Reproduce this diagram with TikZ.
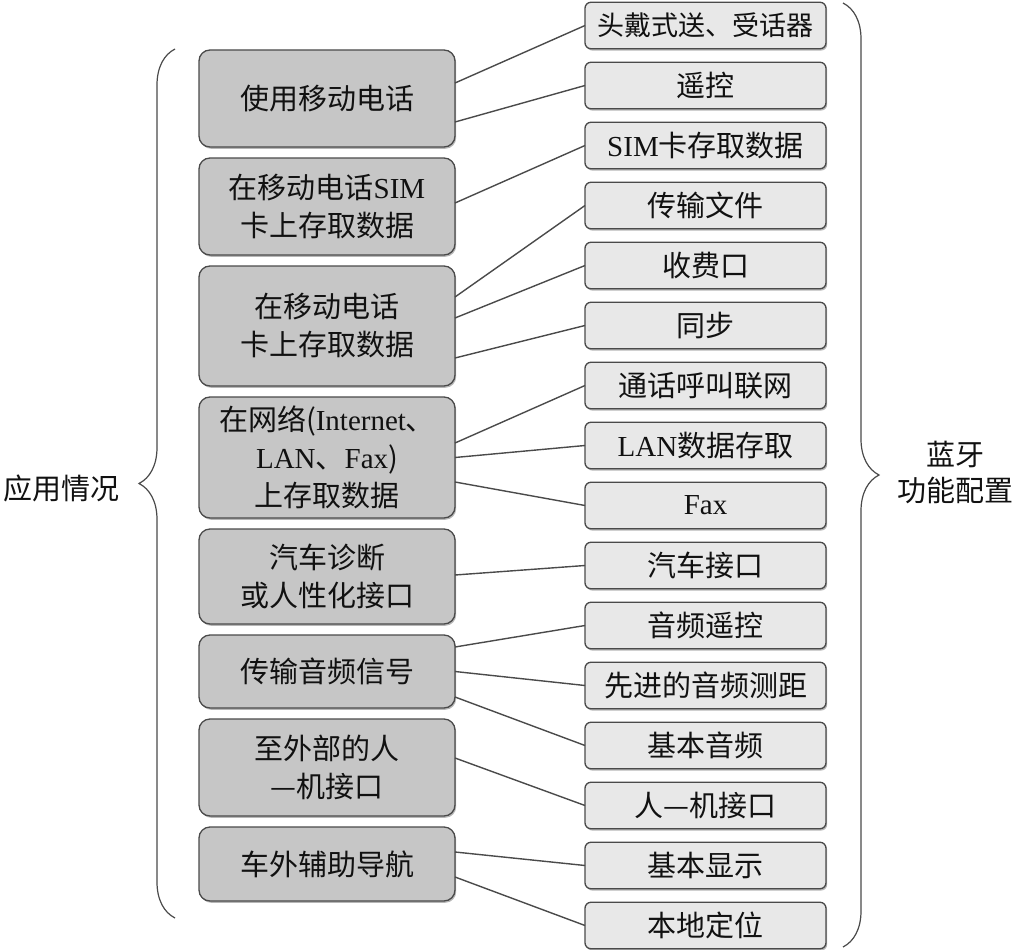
\documentclass[tikz,border=0pt]{standalone}
\usepackage{fontspec}
\setmainfont{Liberation Serif}
\newfontfamily\cjk{Noto Sans CJK SC}
\usepackage{tikz}
\usetikzlibrary{positioning,shadows,decorations.pathreplacing}
\definecolor{ink}{HTML}{111111}
\definecolor{edge}{HTML}{4A4A4A}
\definecolor{usefill}{HTML}{C6C6C6}
\definecolor{cfgfill}{HTML}{E8E8E8}
\newcommand{\latn}[1]{{\rmfamily #1}}

\begin{document}
\begin{tikzpicture}[x=1pt, y=-1pt, font=\cjk\fontsize{29}{38}\selectfont, text=ink, node distance=11pt,
  usebox/.style={draw=edge, line width=1.3pt, rounded corners=11pt, fill=usefill, minimum width=256pt, align=center, inner sep=0pt, outer sep=0pt, drop shadow={shadow xshift=1.2pt, shadow yshift=-1.8pt, fill=edge!80}},
  cfgbox/.style={draw=edge, line width=1.3pt, rounded corners=6pt, fill=cfgfill, minimum width=241pt, minimum height=46.5pt, align=center, inner sep=0pt, outer sep=0pt, drop shadow={shadow xshift=1.2pt, shadow yshift=-1.8pt, fill=edge!80}},
  link/.style={edge, line width=1.4pt},
  brc/.style={decorate, decoration={brace, amplitude=36pt}, edge, line width=1.2pt}]
  \useasboundingbox (0,0) rectangle (1015,950);
  % Bluetooth profiles (right column)
  \node[cfgbox, font=\cjk\fontsize{27}{30}\selectfont] (headset) at (705.5,25.5) {头戴式送、受话器};
  \node[cfgbox, below=13.5pt of headset] (remote) {遥控};
  \node[cfgbox, below=13.5pt of remote] (simdata) {\latn{SIM}卡存取数据};
  \node[cfgbox, below=13.5pt of simdata] (filexfer) {传输文件};
  \node[cfgbox, below=13.5pt of filexfer] (toll) {收费口};
  \node[cfgbox, below=13.5pt of toll] (sync) {同步};
  \node[cfgbox, below=13.5pt of sync] (dialup) {通话呼叫联网};
  \node[cfgbox, below=13.5pt of dialup] (landata) {\latn{LAN}数据存取};
  \node[cfgbox, below=13.5pt of landata] (fax) {\latn{Fax}};
  \node[cfgbox, below=13.5pt of fax] (carif) {汽车接口};
  \node[cfgbox, below=13.5pt of carif] (avrc) {音频遥控};
  \node[cfgbox, below=13.5pt of avrc] (avdist) {先进的音频测距};
  \node[cfgbox, below=13.5pt of avdist] (audio) {基本音频};
  \node[cfgbox, below=13.5pt of audio] (hmi) {人—机接口};
  \node[cfgbox, below=13.5pt of hmi] (display) {基本显示};
  \node[cfgbox, below=13.5pt of display] (locate) {本地定位};
  % use cases (left column)
  \node[usebox, minimum height=97pt] (phone) at (327,98.5) {使用移动电话};
  \node[usebox, minimum height=97pt, below=of phone] (simcard) {在移动电话\latn{SIM}\\卡上存取数据};
  \node[usebox, minimum height=120pt, below=of simcard] (cardata) {在移动电话\\卡上存取数据};
  \node[usebox, minimum height=121pt, below=of cardata] (network) {在网络(\latn{Internet}、\\\latn{LAN}、\latn{Fax})\\上存取数据};
  \node[usebox, minimum height=95pt, below=of network] (cardiag) {汽车诊断\\或人性化接口};
  \node[usebox, minimum height=73pt, below=of cardiag] (stream) {传输音频信号};
  \node[usebox, minimum height=97pt, below=of stream] (human) {至外部的人\\—机接口};
  \node[usebox, minimum height=74pt, below=of human] (navi) {车外辅助导航};
  % links
  \draw[link] ([yshift=15.5pt]phone.east) -- (headset.west);
  \draw[link] ([yshift=-23.5pt]phone.east) -- (remote.west);
  \draw[link] ([yshift=3.5pt]simcard.east) -- (simdata.west);
  \draw[link] ([yshift=29pt]cardata.east) -- (filexfer.west);
  \draw[link] ([yshift=8pt]cardata.east) -- (toll.west);
  \draw[link] ([yshift=-32pt]cardata.east) -- (sync.west);
  \draw[link] ([yshift=14.5pt]network.east) -- (dialup.west);
  \draw[link] (network.east) -- (landata.west);
  \draw[link] ([yshift=-24.5pt]network.east) -- (fax.west);
  \draw[link] ([yshift=1.5pt]cardiag.east) -- (carif.west);
  \draw[link] ([yshift=24.5pt]stream.east) -- (avrc.west);
  \draw[link] (stream.east) -- (avdist.west);
  \draw[link] ([yshift=-25.5pt]stream.east) -- (audio.west);
  \draw[link] ([yshift=9.5pt]human.east) -- (hmi.west);
  \draw[link] ([yshift=12pt]navi.east) -- (display.west);
  \draw[link] ([yshift=-13pt]navi.east) -- (locate.west);
  % braces and group labels
  \draw[brc] (175,918) -- (175,49);
  \draw[brc] (843,3) -- (843,947);
  \node (apps) at (61,488) {应用情况};
  \node[align=center, font=\cjk\fontsize{29}{36}\selectfont] (bt) at (955,472) {蓝牙\\功能配置};
\end{tikzpicture}
\end{document}
